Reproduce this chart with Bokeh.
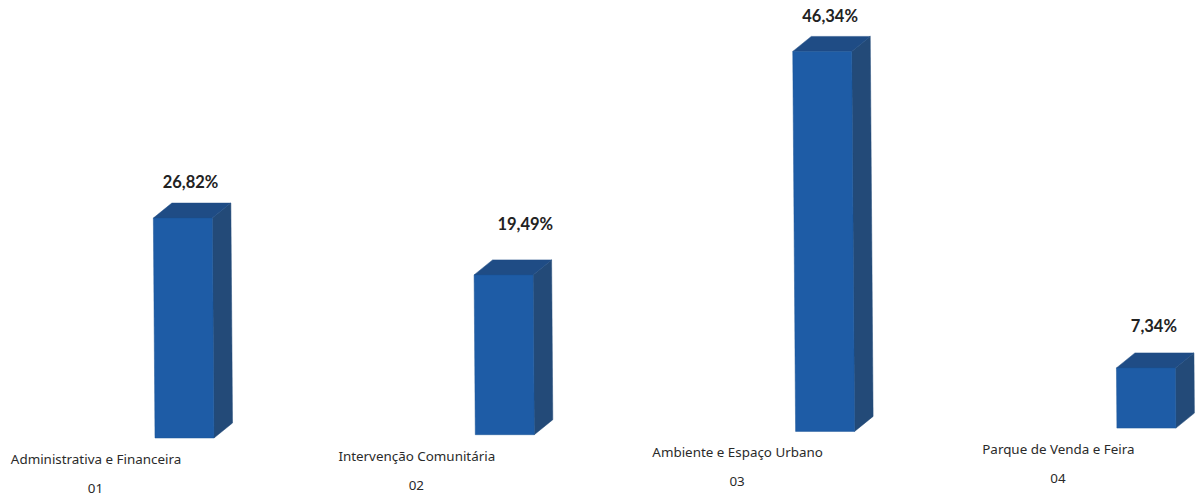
from bokeh.plotting import figure
from bokeh.models import Range1d
from bokeh.core.properties import value
from bokeh.embed import file_html
from bokeh.resources import INLINE

# Data
categories = ["Administrativa e Financeira", "Intervenção Comunitária", "Ambiente e Espaço Urbano", "Parque de Venda e Feira"]
codes = ["01", "02", "03", "04"]
percent = [26.82, 19.49, 46.34, 7.34]
percent_labels = ["26,82%", "19,49%", "46,34%", "7,34%"]

# Layout: page size and scales
W, H = 1197, 497
PX_X = 320.8          # pixels per category
PX_Y = 8.2            # pixels per percentage point
X0, Y0 = 183.0, 437.5 # pixel of first bar's centre and baseline

p = figure(width=W, height=H, output_backend="svg", toolbar_location=None,
           x_range=Range1d(-X0 / PX_X, (W - X0) / PX_X),
           y_range=Range1d((Y0 - H) / PX_Y, Y0 / PX_Y),
           min_border=0, outline_line_color=None, background_fill_color="white")
p.axis.visible = False
p.grid.visible = False

dx = lambda px: px / PX_X
dy = lambda px: px / PX_Y

half_w = dx(29.5)
depth_x, depth_y = dx(18.5), dy(15)
tilt = dy(3.3)              # the scan drifts upward to the right
lean = dx(0.0075)           # and leans slightly
val_off = [36, 50.5, 35.5, 42]  # label distance above the bar, px
val_dx = [7, 21, 5, 8]      # label shift from bar centre, px
bar_dx = [0, -0.5, -1, -0.5]   # px

front, top, side = ([], []), ([], []), ([], [])
for i, v in enumerate(percent):
    xc = i + dx(bar_dx[i])
    b = tilt * i
    t = b + v
    shift = lean * (v * PX_Y)
    xl, xr = xc - half_w + dx(1), xc + half_w + dx(1)
    tl, tr = xl - shift, xr - shift
    front[0].append([xl, xr, tr, tl]); front[1].append([b, b, t, t])
    top[0].append([tl, tr, tr + depth_x, tl + depth_x]); top[1].append([t, t, t + depth_y, t + depth_y])
    side[0].append([xr, xr + depth_x, tr + depth_x, tr]); side[1].append([b, b + depth_y, t + depth_y, t])

p.patches(side[0], side[1], fill_color="#234A78", line_color="#234A78", line_width=0.5)
p.patches(top[0], top[1], fill_color="#1F4C85", line_color="#1F4C85", line_width=0.5)
p.patches(front[0], front[1], fill_color="#1E5CA6", line_color="#1B5596", line_width=0.5)

vx = [i + dx(val_dx[i]) for i in range(4)]
vy = [tilt * i + percent[i] + dy(val_off[i]) for i in range(4)]
p.text(vx, vy, text=percent_labels, text_font=value("Lato"), text_font_size="16.5px",
       text_font_style="bold", text_color="#222222", text_align="center", text_baseline="middle")

cx = [i + dx(-87.5) for i in range(4)]
cy = [dy(-21) + tilt * i for i in range(4)]
p.text(cx, cy, text=categories, text_font=value("Noto Sans"), text_font_size="13.4px",
       text_color="#2a2a2a", text_align="center", text_baseline="middle")

kx = [i + dx(-88) for i in range(4)]
ky = [dy(-50.5) + tilt * i for i in range(4)]
p.text(kx, ky, text=codes, text_font=value("Noto Sans"), text_font_size="13.4px",
       text_color="#2a2a2a", text_align="center", text_baseline="middle")

open("out.html", "w").write(file_html(p, INLINE))
